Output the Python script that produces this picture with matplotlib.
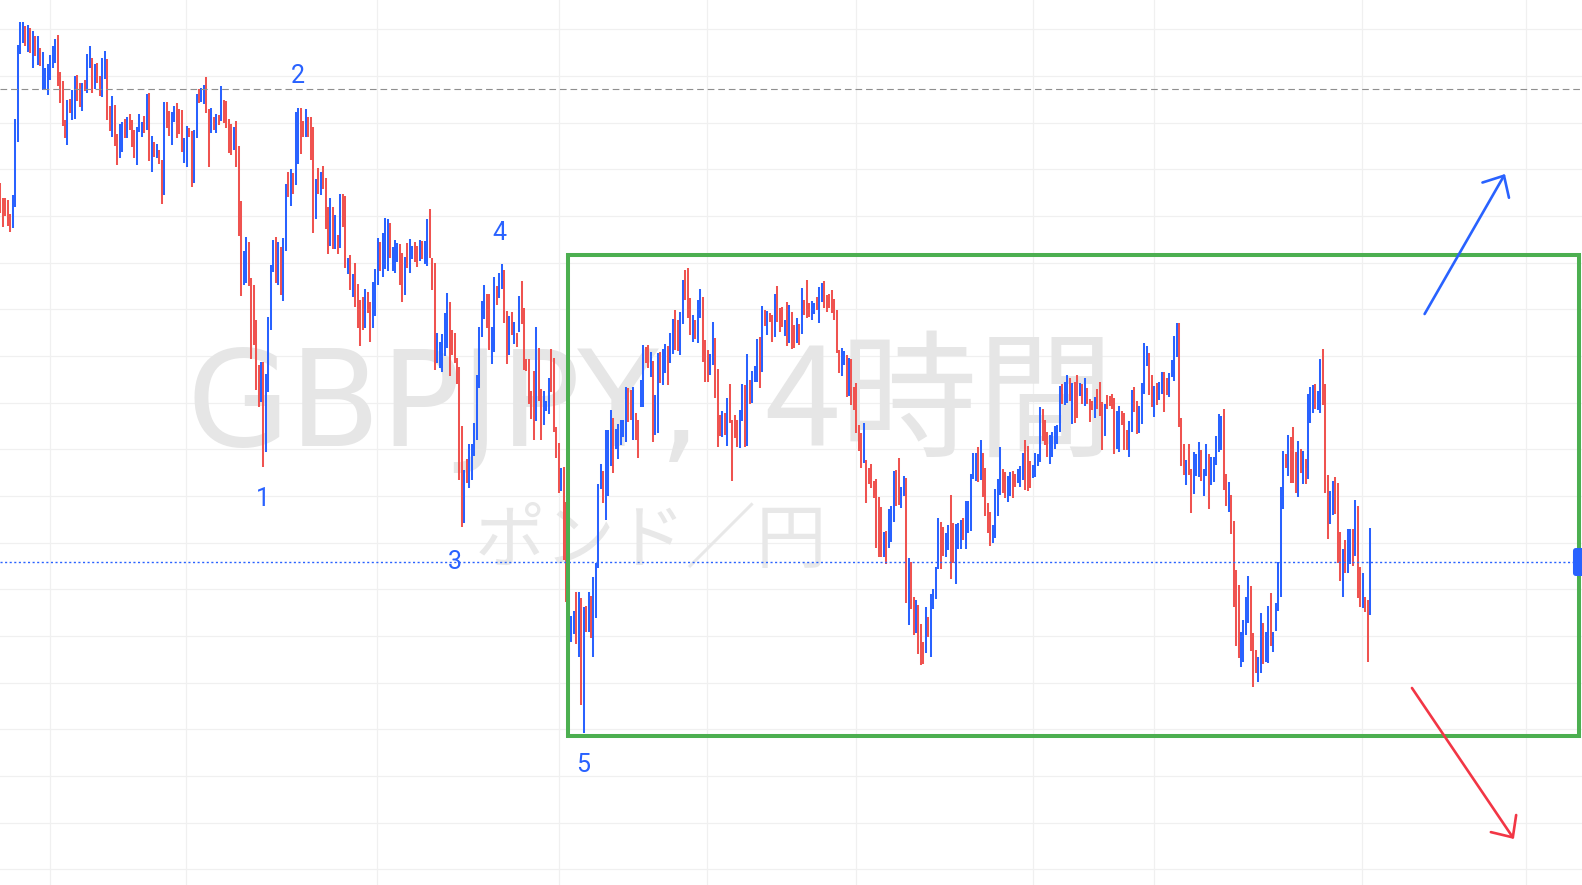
import numpy as np
import matplotlib
matplotlib.use("Agg")
import matplotlib.pyplot as plt
from matplotlib.patches import Rectangle, FancyBboxPatch

# ---------------- data (GBPJPY 4h, high / low per bar) ----------------
highs = [
    198.17, 198.02, 198.02, 198.00, 197.86, 198.05, 198.81, 199.55, 199.78, 199.78,
    199.74, 199.75, 199.72, 199.69, 199.64, 199.64, 199.52, 199.48, 199.32, 199.36,
    199.45, 199.54, 199.61, 199.65, 199.28, 199.19, 198.80, 199.00, 199.01, 199.10,
    199.24, 199.25, 199.17, 199.17, 199.20, 199.46, 199.54, 199.42, 199.36, 199.37,
    199.24, 199.42, 199.49, 199.41, 198.94, 199.04, 198.95, 198.66, 198.76, 198.78,
    198.81, 198.83, 198.86, 198.80, 198.70, 198.73, 198.86, 198.78, 198.84, 199.06,
    199.07, 198.64, 198.58, 198.56, 198.50, 198.40, 198.98, 198.98, 198.89, 198.88,
    198.94, 198.97, 198.91, 198.90, 198.62, 198.74, 198.72, 198.69, 198.70, 199.06,
    199.11, 199.12, 199.15, 199.23, 198.91, 198.92, 198.83, 198.86, 198.85, 199.14,
    199.00, 198.99, 198.81, 198.76, 198.73, 198.79, 198.54, 197.99, 197.49, 197.63,
    197.58, 197.22, 197.15, 196.80, 196.35, 196.38, 196.38, 196.26, 196.83, 197.35,
    197.60, 197.63, 197.58, 197.53, 197.62, 198.16, 198.28, 198.31, 198.27, 198.88,
    198.92, 198.92, 198.79, 198.91, 198.83, 198.83, 198.73, 198.21, 198.32, 198.28,
    198.34, 198.22, 197.93, 198.02, 197.93, 197.85, 197.65, 198.06, 198.06, 198.04,
    197.42, 197.45, 197.26, 197.37, 197.16, 197.00, 197.03, 197.11, 197.08, 196.98,
    197.18, 197.31, 197.62, 197.58, 197.67, 197.82, 197.81, 197.77, 197.53, 197.60,
    197.57, 197.56, 197.47, 197.43, 197.57, 197.61, 197.54, 197.58, 197.54, 197.60,
    197.59, 197.59, 197.81, 197.91, 197.42, 197.37, 196.67, 196.58, 196.66, 196.87,
    197.07, 196.98, 196.70, 196.67, 196.42, 196.33, 195.74, 195.30, 195.41, 195.56,
    195.56, 195.77, 196.25, 196.73, 196.99, 197.15, 197.06, 197.06, 196.73, 197.23,
    197.14, 197.27, 197.36, 197.30, 196.89, 196.84, 196.88, 196.78, 196.67, 197.04,
    197.19, 196.92, 196.41, 196.41, 196.09, 196.29, 196.73, 196.52, 196.11, 196.09,
    195.99, 196.22, 196.51, 196.42, 195.73, 195.57, 195.32, 195.33, 194.98, 194.15,
    193.84, 193.89, 194.08, 194.08, 194.02, 193.93, 193.94, 194.08, 194.04, 194.23,
    194.37, 195.16, 195.36, 195.29, 195.70, 195.70, 195.90, 195.82, 195.71, 195.76,
    195.80, 195.80, 196.13, 196.12, 196.10, 196.13, 195.87, 195.80, 196.20, 196.55,
    196.53, 196.55, 196.48, 196.39, 196.05, 196.47, 196.48, 196.51, 196.56, 196.54,
    196.67, 196.81, 196.90, 196.80, 196.88, 197.20, 197.30, 197.32, 197.02, 196.85,
    196.80, 197.00, 197.11, 197.03, 196.60, 196.50, 196.46, 196.78, 196.62, 196.31,
    195.85, 195.89, 195.87, 196.02, 196.16, 195.80, 195.85, 195.80, 195.90, 196.16,
    196.15, 196.46, 196.20, 196.29, 196.34, 196.61, 196.63, 196.94, 196.90, 196.89,
    196.87, 196.85, 197.06, 197.14, 196.92, 196.93, 196.80, 196.98, 196.95, 196.88,
    196.75, 196.82, 196.76, 197.12, 197.00, 197.20, 196.97, 196.99, 196.97, 197.03,
    197.13, 197.17, 197.19, 197.05, 197.06, 197.10, 197.01, 196.90, 196.50, 196.52,
    196.49, 196.45, 196.42, 196.41, 196.13, 196.17, 195.75, 195.67, 195.77, 195.40,
    195.32, 195.36, 195.19, 195.21, 195.03, 194.93, 194.68, 194.69, 194.91, 194.94,
    195.29, 195.30, 195.42, 195.13, 195.24, 195.22, 194.42, 194.38, 194.03, 194.00,
    193.95, 193.76, 193.58, 193.93, 193.83, 194.06, 194.11, 194.33, 194.82, 194.78,
    194.73, 194.67, 194.75, 195.05, 194.77, 194.76, 194.77, 194.80, 194.82, 194.99,
    194.99, 195.26, 195.47, 195.47, 195.53, 195.60, 195.47, 195.32, 194.97, 194.88,
    194.75, 195.11, 195.21, 195.53, 195.31, 195.28, 195.24, 195.28, 195.29, 195.26,
    195.31, 195.34, 195.47, 195.60, 195.54, 195.39, 195.35, 195.47, 195.46, 195.93,
    195.91, 195.80, 195.68, 195.65, 195.68, 195.74, 195.75, 196.14, 196.16, 196.18,
    196.25, 196.22, 196.17, 196.18, 196.25, 196.17, 196.16, 196.22, 196.12, 196.01,
    195.99, 196.03, 196.11, 196.18, 195.98, 195.96, 196.05, 196.04, 196.06, 196.02,
    195.89, 195.94, 195.89, 195.87, 195.70, 195.79, 196.10, 196.13, 195.99, 195.94,
    196.17, 196.57, 196.54, 196.47, 196.25, 196.14, 196.17, 196.18, 196.28, 196.28,
    196.22, 196.27, 196.40, 196.64, 196.77, 196.77, 195.82, 195.56, 195.40, 195.56,
    195.31, 195.48, 195.46, 195.58, 195.50, 195.31, 195.56, 195.46, 195.43, 195.43,
    195.64, 195.86, 195.84, 195.91, 195.26, 195.18, 195.05, 194.79, 194.30, 194.15,
    193.68, 193.80, 194.03, 194.24, 194.14, 193.67, 193.50, 193.43, 193.87, 193.77,
    193.68, 193.94, 194.07, 193.68, 193.97, 194.38, 195.13, 195.49, 195.46, 195.65,
    195.63, 195.73, 195.48, 195.59, 195.51, 195.49, 195.41, 196.06, 196.13, 196.15,
    196.16, 196.09, 196.41, 196.51, 196.16, 195.25, 195.09, 195.19, 195.23, 195.17,
    194.68, 194.51, 194.60, 194.71, 194.71, 194.71, 195.00, 194.94, 194.33, 194.27,
    194.03, 194.00, 194.72,
]
lows = [
    197.87, 197.73, 197.84, 197.74, 197.68, 197.72, 197.93, 198.58, 199.46, 199.57,
    199.54, 199.48, 199.47, 199.32, 199.44, 199.35, 199.34, 199.10, 199.11, 199.05,
    199.20, 199.32, 199.37, 199.14, 198.97, 198.74, 198.62, 198.55, 198.87, 198.80,
    198.81, 198.99, 198.93, 198.89, 199.09, 199.07, 199.32, 199.07, 199.11, 199.17,
    199.04, 199.03, 199.21, 198.80, 198.69, 198.63, 198.54, 198.35, 198.42, 198.48,
    198.62, 198.62, 198.70, 198.53, 198.42, 198.35, 198.68, 198.63, 198.67, 198.70,
    198.39, 198.28, 198.43, 198.42, 198.36, 197.96, 198.05, 198.72, 198.64, 198.55,
    198.78, 198.62, 198.66, 198.48, 198.37, 198.33, 198.63, 198.13, 198.17, 198.62,
    198.97, 198.98, 198.96, 198.87, 198.33, 198.67, 198.70, 198.67, 198.75, 198.79,
    198.77, 198.72, 198.47, 198.45, 198.50, 198.33, 197.64, 197.04, 197.15, 197.17,
    197.14, 196.41, 196.55, 196.10, 195.93, 195.98, 195.33, 195.48, 196.08, 196.70,
    197.28, 197.17, 197.15, 197.05, 196.99, 197.49, 198.03, 197.94, 198.06, 198.15,
    198.36, 198.46, 198.63, 198.63, 198.63, 198.40, 197.67, 197.81, 198.06, 198.05,
    198.11, 197.71, 197.46, 197.54, 197.51, 197.51, 197.46, 197.52, 197.73, 197.32,
    197.26, 197.10, 197.03, 196.93, 196.72, 196.54, 196.70, 196.72, 196.87, 196.58,
    196.72, 196.84, 197.15, 197.29, 197.23, 197.31, 197.29, 197.42, 197.29, 197.27,
    197.38, 197.15, 196.98, 197.05, 197.32, 197.27, 197.41, 197.38, 197.33, 197.39,
    197.41, 197.36, 197.34, 197.42, 197.10, 196.30, 196.37, 196.32, 196.28, 196.44,
    196.52, 196.24, 196.45, 196.37, 196.16, 195.20, 194.73, 194.77, 195.17, 195.12,
    195.20, 195.44, 195.60, 196.12, 196.63, 196.81, 196.72, 196.50, 196.36, 196.48,
    196.95, 197.02, 197.11, 196.77, 196.36, 196.45, 196.65, 196.56, 196.53, 196.68,
    196.76, 196.30, 196.29, 195.96, 195.81, 195.60, 195.79, 195.99, 195.60, 195.75,
    195.89, 195.86, 196.08, 195.68, 195.42, 195.07, 195.09, 194.40, 193.98, 193.47,
    193.58, 193.66, 193.56, 193.43, 192.95, 192.67, 193.68, 193.68, 193.62, 193.43,
    193.82, 194.32, 195.11, 194.97, 194.80, 195.04, 195.34, 195.27, 195.51, 195.41,
    195.55, 195.63, 195.58, 195.78, 195.80, 195.60, 195.60, 195.42, 195.93, 195.93,
    196.37, 196.32, 196.23, 195.58, 195.65, 195.67, 196.17, 196.15, 196.27, 196.15,
    196.37, 196.46, 196.50, 196.49, 196.45, 196.76, 197.00, 196.82, 196.65, 196.58,
    196.61, 196.57, 196.82, 196.38, 196.18, 196.18, 196.25, 196.35, 196.02, 195.53,
    195.64, 195.63, 195.65, 195.54, 195.77, 195.19, 195.62, 195.53, 195.52, 195.79,
    195.53, 195.54, 195.96, 195.97, 196.18, 196.18, 196.12, 196.28, 196.74, 196.65,
    196.78, 196.58, 196.63, 196.78, 196.68, 196.73, 196.64, 196.54, 196.57, 196.51,
    196.52, 196.57, 196.55, 196.66, 196.85, 196.82, 196.83, 196.80, 196.86, 196.90,
    196.77, 196.98, 196.92, 196.88, 196.92, 196.87, 196.80, 196.47, 196.27, 196.24,
    196.35, 196.03, 196.04, 195.95, 195.90, 195.67, 195.49, 195.32, 195.37, 194.97,
    195.16, 195.12, 195.02, 194.52, 194.43, 194.43, 194.43, 194.36, 194.52, 194.58,
    194.78, 194.94, 194.95, 194.92, 195.04, 193.97, 193.75, 193.91, 193.65, 193.67,
    193.46, 193.35, 193.36, 193.47, 193.63, 193.43, 193.91, 194.01, 194.31, 194.31,
    194.44, 194.43, 194.50, 194.21, 194.37, 194.16, 194.51, 194.51, 194.60, 194.51,
    194.67, 194.69, 195.21, 195.19, 195.18, 195.20, 195.03, 194.84, 194.67, 194.54,
    194.57, 194.62, 194.84, 195.05, 195.07, 195.02, 194.98, 195.04, 195.02, 195.13,
    195.17, 195.13, 195.20, 195.10, 195.09, 195.12, 195.22, 195.23, 195.34, 195.38,
    195.59, 195.55, 195.43, 195.36, 195.43, 195.51, 195.56, 195.68, 195.96, 195.95,
    195.97, 195.99, 195.76, 195.77, 195.82, 196.04, 195.96, 195.94, 195.96, 195.78,
    195.90, 195.82, 195.91, 195.84, 195.50, 195.64, 195.91, 195.94, 195.91, 195.46,
    195.51, 195.48, 195.75, 195.50, 195.50, 195.43, 195.68, 195.88, 195.66, 195.67,
    195.76, 196.06, 196.34, 196.05, 195.93, 195.83, 195.95, 196.00, 196.06, 195.88,
    196.05, 196.03, 196.23, 196.19, 196.43, 195.73, 195.34, 195.25, 195.15, 195.25,
    194.87, 195.06, 195.24, 195.23, 195.19, 195.04, 195.24, 194.91, 195.15, 195.18,
    195.35, 195.48, 195.50, 195.10, 194.94, 194.88, 194.66, 193.93, 193.54, 193.42,
    193.33, 193.38, 193.65, 193.77, 193.49, 193.13, 193.27, 193.18, 193.27, 193.36,
    193.38, 193.37, 193.54, 193.48, 193.69, 193.89, 194.03, 194.91, 195.32, 195.24,
    195.17, 195.17, 195.07, 195.03, 195.27, 195.16, 195.16, 195.21, 195.77, 195.87,
    195.91, 195.90, 195.87, 195.95, 195.07, 194.61, 194.76, 194.85, 194.86, 194.37,
    194.19, 194.03, 194.27, 194.27, 194.36, 194.34, 194.44, 194.02, 193.93, 193.92,
    193.88, 193.38, 193.85,
]
# u = up bar (blue), d = down bar (red)
directions = "".join([
    "ddddduuuuu", "dudududuuu", "uuuddddudu", "udduduudud", "duuddudduu",
    "duddduuudu", "dududduddu", "uddduudduu", "duuddududu", "dddduddduu",
    "ddddduduuu", "ududuududu", "uddudddudu", "dddudududd", "ududdddudd",
    "uuuduuuduu", "udduduuddu", "duuddduuuu", "uddddddudu", "uuuuuudduu",
    "duuddududu", "dddddduddu", "uudddduddd", "uududududu", "uuuduuuduu",
    "uuuddudduu", "dduduuduud", "uudduudddu", "duuddduudd", "dududddduu",
    "duduuududu", "ddudddudud", "dududdduud", "uudddddddu", "ududddddud",
    "dddddduduu", "udduududdu", "ddduduuuud", "duudduuudu", "uuuududddd",
    "uuuudduudd", "uuuddduuuu", "ddduuuuudu", "ududdududd", "dudddudddd",
    "uuddduuddu", "uuudduduud", "duuuudddud", "duuuduuduu", "uuuddudddd",
    "uuuuddduud", "uuduuuuudu", "dddududuuu", "duuddduudd", "duduududdu",
    "ddu",
])

wave_labels = ["1", "2", "3", "4", "5"]
wave_x = [106.9, 120.8, 184.0, 202.1, 235.9]
wave_y = [194.94, 199.17, 194.31, 197.60, 192.28]

resistance_level = 199.11      # grey dashed line
last_price = 194.38            # blue dotted line
range_box_x = [229.7, 637.2]   # green range rectangle (bar index)
range_box_y = [192.64, 197.45] # (price)
up_arrow = [(575.0, 196.86), (607.4, 198.26)]
down_arrow = [(569.9, 193.12), (611.0, 191.61)]

grid_prices = 199.707 - 0.4667 * np.arange(0, 19)
grid_bars = [21.1, 75.9, 152.9, 226.2, 285.9, 345.9, 417.0, 466.0, 549.6, 616.0]

# ---------------- drawing ----------------
BLUE = "#2962ff"
RED = "#ef5350"
W, H = 1582.0, 885.0

assert len(highs) == len(lows) == len(directions)
idx = np.arange(1, len(highs) + 1)
colors = [BLUE if c == "u" else RED for c in directions]

fig = plt.figure(figsize=(15.82, 8.85), dpi=100)
ax = fig.add_axes([0, 0, 1, 1])
ax.set_xlim(0.7985, 638.44)
ax.set_ylim(191.15, 200.0)
ax.set_axis_off()
fig.patch.set_facecolor("white")

ax.hlines(grid_prices, 0, 700, color="#f0f0f0", lw=0.9, zorder=0)
ax.vlines(grid_bars, 190, 201, color="#f0f0f0", lw=0.9, zorder=0)

# watermark (symbol + interval, currency names)
wm_a = ax.text(186 / W, 1 - 446 / H, "GBPJPY,", transform=ax.transAxes,
               ha="left", va="baseline", fontsize=100, color="#e6e6e6",
               family=["Liberation Sans Narrow", "DejaVu Sans"], zorder=1)
wm_b = ax.text(764 / W, 1 - 446 / H, "4時間", transform=ax.transAxes,
               ha="left", va="baseline", fontsize=100, color="#e6e6e6",
               family=["Noto Sans CJK JP", "DejaVu Sans"], zorder=1)
wm_c = ax.text(651 / W, 1 - 542 / H, "ポンド／円", transform=ax.transAxes,
               ha="center", va="center", fontsize=50, color="#e8e8e8",
               family=["Noto Sans CJK JP", "DejaVu Sans"], zorder=1)
fig.canvas.draw()
for t, target in [(wm_a, 515.0), (wm_b, 350.0), (wm_c, 353.0)]:
    fs = t.get_fontsize()
    t.set_fontsize(fs * target / t.get_window_extent().width)

ax.vlines(idx, lows, highs, colors=colors, lw=1.45, zorder=3)

ax.axhline(resistance_level, color="#8f8f8f", lw=0.8, dashes=(6, 3.5), zorder=4)
ax.axhline(last_price, color=BLUE, lw=1.0, dashes=(1.5, 1.8), zorder=4)

ax.add_patch(Rectangle((range_box_x[0], range_box_y[0]),
                       range_box_x[1] - range_box_x[0], range_box_y[1] - range_box_y[0],
                       fill=False, edgecolor="#4caf50", lw=2.9, zorder=5))

ax.add_patch(FancyBboxPatch((634.8, last_price - 0.14), 12, 0.28,
                            boxstyle="round,pad=0,rounding_size=1.3",
                            mutation_aspect=0.0248, facecolor=BLUE,
                            edgecolor="none", zorder=6))

for (x0, y0), (x1, y1), col in [(up_arrow[0], up_arrow[1], BLUE),
                                (down_arrow[0], down_arrow[1], "#f23645")]:
    ax.annotate("", xy=(x1, y1), xytext=(x0, y0),
                arrowprops=dict(arrowstyle="->,head_length=0.6,head_width=0.55",
                                color=col, lw=1.9, mutation_scale=20,
                                shrinkA=0, shrinkB=0), zorder=6)

for lab, x, y in zip(wave_labels, wave_x, wave_y):
    ax.text(x, y, lab, ha="center", va="baseline", fontsize=18,
            family="Roboto", color=BLUE, zorder=6)

fig.savefig("out.png", dpi=100, facecolor="white")
